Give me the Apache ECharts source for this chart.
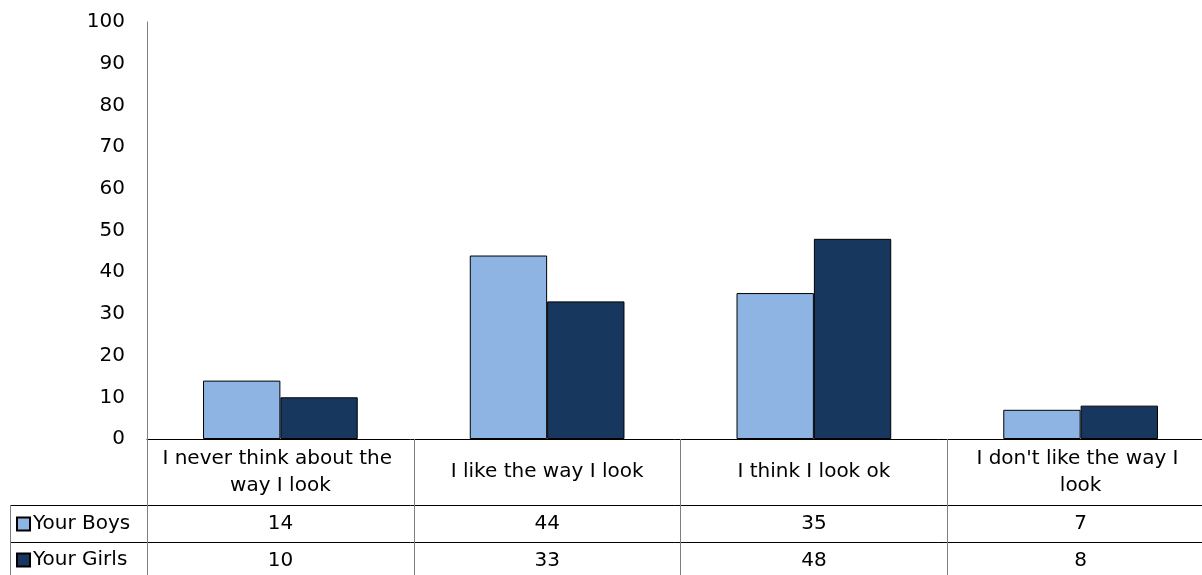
<!DOCTYPE html>
<html>
<head>
<meta charset="utf-8">
<script src="https://cdn.jsdelivr.net/npm/echarts@6/dist/echarts.min.js"></script>
<style>
html,body{margin:0;padding:0;background:#fff;}
#c{width:1202px;height:575px;}
</style>
</head>
<body>
<div id="c"></div>
<script>
const categories = ["I never think about the way I look", "I like the way I look", "I think I look ok", "I don't like the way I look"];
const boys = [14, 44, 35, 7];
const girls = [10, 33, 48, 8];
const yTicks = { min: 0, max: 100, interval: 10 };

const FONT = 'DejaVu Sans';
const FS = 20;
const chart = echarts.init(document.getElementById('c'));
const rowLabel = (vals) => ({
  type: 'category',
  data: categories,
  position: 'bottom',
  gridIndex: 0,
  axisLine: { show: true, lineStyle: { color: '#000', width: 1 } },
  axisTick: { show: false },
  axisLabel: {
    interval: 0, color: '#000', fontFamily: FONT, fontSize: FS,
    margin: 19, verticalAlign: 'middle',
    formatter: (v, i) => String(vals[i])
  }
});
const xb = rowLabel(boys); xb.offset = 66;
const xg = rowLabel(girls); xg.offset = 103;

const legendBase = {
  orient: 'vertical', left: 11,
  itemWidth: 13, itemHeight: 13, icon: 'rect',
  textStyle: { fontFamily: FONT, fontSize: FS, color: '#000', padding: [0, 0, 0, -2] }
};

chart.setOption({
  animation: false,
  grid: { left: 147, top: 22, width: 1067, height: 417, outerBoundsMode: 'none', containLabel: false },
  legend: [
    Object.assign({}, legendBase, { top: 509, data: ['Your Boys'] }),
    Object.assign({}, legendBase, { top: 545, data: ['Your Girls'] })
  ],
  xAxis: [
    {
      type: 'category', data: categories, position: 'bottom',
      axisLine: { show: true, lineStyle: { color: '#000', width: 1 } },
      axisTick: { show: true, interval: 0, length: 136, lineStyle: { color: '#7f7f7f' } },
      axisLabel: {
        interval: 0, color: '#000', fontFamily: FONT, fontSize: FS, lineHeight: 27,
        margin: 33, verticalAlign: 'middle', width: 240, overflow: 'break'
      }
    },
    xb, xg
  ],
  yAxis: {
    type: 'value', min: yTicks.min, max: yTicks.max, interval: yTicks.interval,
    splitLine: { show: false },
    axisTick: { show: false },
    axisLine: { show: true, lineStyle: { color: '#7f7f7f' } },
    axisLabel: { color: '#000', fontFamily: FONT, fontSize: FS, margin: 22 }
  },
  graphic: [
    { type: 'line', shape: { x1: 10, y1: 505.5, x2: 147, y2: 505.5 }, style: { stroke: '#000', lineWidth: 1 } },
    { type: 'line', shape: { x1: 10, y1: 542.5, x2: 147, y2: 542.5 }, style: { stroke: '#000', lineWidth: 1 } },
    { type: 'line', shape: { x1: 10.5, y1: 505, x2: 10.5, y2: 575 }, style: { stroke: '#7f7f7f', lineWidth: 1 } }
  ],
  series: [
    { name: 'Your Boys', type: 'bar', data: boys, barGap: '0%', barCategoryGap: '42%',
      itemStyle: { color: '#8EB4E3', borderColor: '#000', borderWidth: 1 } },
    { name: 'Your Girls', type: 'bar', data: girls, barGap: '0%', barCategoryGap: '42%',
      itemStyle: { color: '#17375E', borderColor: '#000', borderWidth: 1 } }
  ]
});
</script>
</body>
</html>
